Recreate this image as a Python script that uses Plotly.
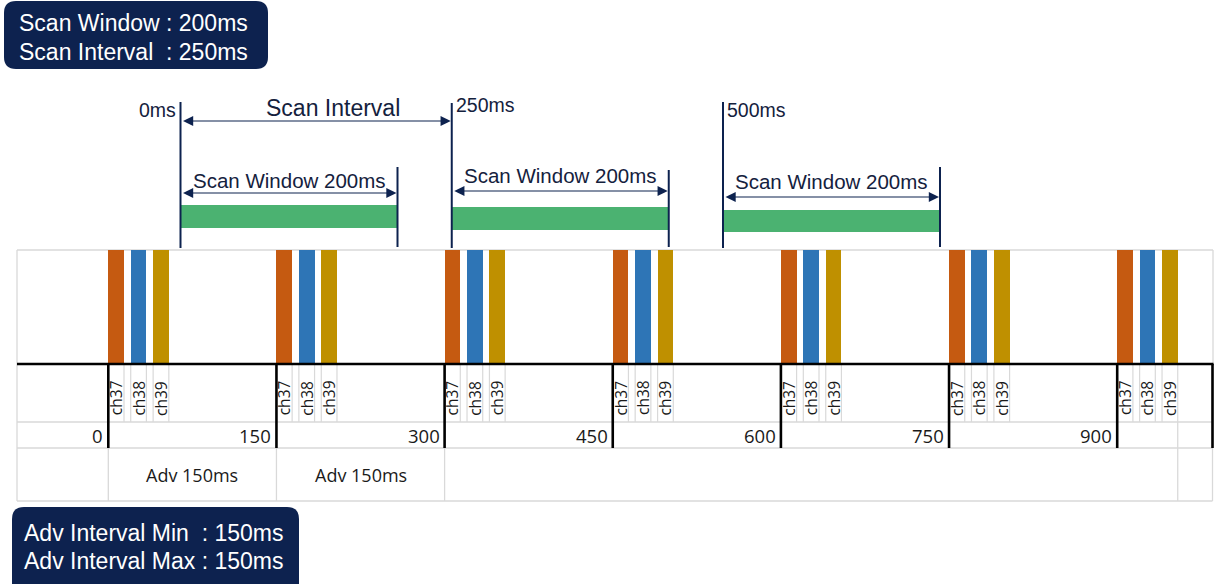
import plotly.graph_objects as go

# ---------------- data ----------------
adv_event_ms = [0, 150, 300, 450, 600, 750, 900]
adv_tick_labels = ["0", "150", "300", "450", "600", "750", "900"]
channel_names = ["ch37", "ch38", "ch39"]
channel_offset_ms = [0, 20, 40]
channel_duration_ms = [14, 14, 14]
channel_colors = ["#C55A11", "#2E75B6", "#BF9000"]
adv_span_start_ms = [0, 150]
adv_span_end_ms = [150, 300]
adv_span_labels = ["Adv 150ms", "Adv 150ms"]
scan_start_ms = [0, 250, 500]
scan_start_labels = ["0ms", "250ms", "500ms"]
scan_window_ms = 200
scan_interval_ms = 250
scan_window_labels = ["Scan Window 200ms", "Scan Window 200ms", "Scan Window 200ms"]
scan_interval_label = "Scan Interval"
scan_box_lines = ["Scan Window : 200ms", "Scan Interval&nbsp; : 250ms"]
adv_box_lines = ["Adv Interval Min&nbsp; : 150ms", "Adv Interval Max : 150ms"]

# ---------------- layout constants ----------------
W, H = 1219, 584
ADV_PX0, ADV_PX_PER_MS = 108.3, 1.121
SCAN_PX0, SCAN_PX_PER_MS = 180.5, 1.085
adv_range = [-ADV_PX0 / ADV_PX_PER_MS, (W - ADV_PX0) / ADV_PX_PER_MS]
scan_range = [-SCAN_PX0 / SCAN_PX_PER_MS, (W - SCAN_PX0) / SCAN_PX_PER_MS]

BAR_TOP, BASE, LABEL_BOTTOM, NUM_BOTTOM, TABLE_BOTTOM = 250, 364, 422, 448, 501
TABLE_LEFT, TABLE_RIGHT = 17, 1212.5
NAVY = "#0d224f"
TEXT_NAVY = "#14213d"
GRID = "#d9d9d9"
GREEN = "#4BB271"

SCAN_TEXT_Y = [180, 175, 181]
SCAN_ARROW_Y = [193, 191, 197]
SCAN_BAR_Y = [(205, 228), (207, 230), (210, 232)]
SCAN_START_TOP = [102, 103, 102]
SCAN_END_TOP = [167, 170, 167]
SCAN_LINE_BOTTOM = 248
SCAN_LABEL_Y = [109.5, 105, 110]
INTERVAL_ARROW_Y = 121
INTERVAL_TEXT_Y = 107.5

fig = go.Figure()

# channel bars
for i, name in enumerate(channel_names):
    fig.add_trace(go.Bar(
        x=[g + channel_offset_ms[i] + channel_duration_ms[i] / 2 for g in adv_event_ms],
        y=[BAR_TOP - BASE] * len(adv_event_ms),
        base=[BASE] * len(adv_event_ms),
        width=[channel_duration_ms[i]] * len(adv_event_ms),
        marker=dict(color=channel_colors[i], line=dict(width=0)),
        name=name, showlegend=False, hoverinfo="skip",
    ))

# invisible traces to register the extra axes
fig.add_trace(go.Scatter(x=scan_start_ms, y=[0] * 3, xaxis="x2", mode="markers",
                         marker=dict(opacity=0), showlegend=False, hoverinfo="skip"))
fig.add_trace(go.Scatter(x=[0, W], y=[0, 0], xaxis="x3", mode="markers",
                         marker=dict(opacity=0), showlegend=False, hoverinfo="skip"))

shapes = []
ann = []


def line(xref, x0, x1, y0, y1, color, width, layer="above"):
    shapes.append(dict(type="line", xref=xref, yref="y", x0=x0, x1=x1, y0=y0, y1=y1,
                       line=dict(color=color, width=width), layer=layer))


# ---- table grid ----
line("x3", TABLE_LEFT, TABLE_RIGHT + 0.5, BAR_TOP, BAR_TOP, GRID, 1.3, "below")
line("x3", TABLE_LEFT, TABLE_LEFT, BAR_TOP, TABLE_BOTTOM, GRID, 1.3, "below")
line("x3", TABLE_RIGHT + 0.5, TABLE_RIGHT + 0.5, BAR_TOP, BASE, GRID, 1.3, "below")
line("x3", TABLE_RIGHT, TABLE_RIGHT, NUM_BOTTOM, TABLE_BOTTOM, GRID, 1.3, "below")
for yy in [LABEL_BOTTOM, NUM_BOTTOM, TABLE_BOTTOM]:
    line("x3", TABLE_LEFT, TABLE_RIGHT, yy, yy, GRID, 1.3, "below")
for g in adv_event_ms:
    for i in range(len(channel_names)):
        for edge in [channel_offset_ms[i], channel_offset_ms[i] + channel_duration_ms[i]]:
            if edge == 0:
                continue
            line("x", g + edge, g + edge, BASE, LABEL_BOTTOM, GRID, 1.2, "below")
for s in adv_span_start_ms + adv_span_end_ms[-1:]:
    line("x", s, s, NUM_BOTTOM, TABLE_BOTTOM, GRID, 1.3, "below")
last_end = adv_event_ms[-1] + channel_offset_ms[-1] + channel_duration_ms[-1]
line("x", last_end, last_end, LABEL_BOTTOM, TABLE_BOTTOM, GRID, 1.3, "below")

# black baseline + event markers
line("x3", TABLE_LEFT, TABLE_RIGHT + 1, BASE, BASE, "black", 2.6)
for g in adv_event_ms:
    line("x", g, g, BASE, NUM_BOTTOM, "black", 2.6)
line("x3", TABLE_RIGHT, TABLE_RIGHT, BASE, NUM_BOTTOM, "black", 2.6)

GRID_FONT = "Open Sans"
for g in adv_event_ms:
    for i, name in enumerate(channel_names):
        ann.append(dict(xref="x", yref="y", x=g + channel_offset_ms[i] + channel_duration_ms[i] / 2,
                        y=398, text=name, showarrow=False, textangle=-90,
                        font=dict(family=GRID_FONT, size=15.5, color="#1a1a1a")))
for g, lab in zip(adv_event_ms, adv_tick_labels):
    ann.append(dict(xref="x", yref="y", x=g, y=435, text=lab, showarrow=False,
                    xanchor="right", xshift=-3,
                    font=dict(family=GRID_FONT, size=18.5, color="#1a1a1a")))
for s, e, lab in zip(adv_span_start_ms, adv_span_end_ms, adv_span_labels):
    ann.append(dict(xref="x", yref="y", x=(s + e) / 2, y=475, text=lab, showarrow=False,
                    font=dict(family=GRID_FONT, size=18, color="#1a1a1a")))

# ---- scan windows ----
TOP_FONT = "Liberation Sans"
for k, st in enumerate(scan_start_ms):
    en = st + scan_window_ms
    line("x2", st, st, SCAN_START_TOP[k], SCAN_LINE_BOTTOM, NAVY, 2)
    line("x2", en, en, SCAN_END_TOP[k], SCAN_LINE_BOTTOM - 1, NAVY, 2)
    y0, y1 = SCAN_BAR_Y[k]
    shapes.append(dict(type="rect", xref="x2", yref="y", x0=st, x1=en, y0=y0, y1=y1,
                       fillcolor=GREEN, line=dict(width=0), layer="below"))
    ann.append(dict(xref="x2", yref="y", x=en, y=SCAN_ARROW_Y[k], ax=st, ay=SCAN_ARROW_Y[k],
                    axref="x2", ayref="y", text="", showarrow=True, arrowside="end+start",
                    arrowhead=2, startarrowhead=2, arrowsize=1.7, startarrowsize=1.7,
                    arrowwidth=1.2, arrowcolor=NAVY, standoff=1, startstandoff=1))
    ann.append(dict(xref="x2", yref="y", x=(st + en) / 2, y=SCAN_TEXT_Y[k],
                    text=scan_window_labels[k], showarrow=False,
                    font=dict(family=TOP_FONT, size=20.5, color=TEXT_NAVY)))
    if k == 0:
        ann.append(dict(xref="x2", yref="y", x=st, y=SCAN_LABEL_Y[k], text=scan_start_labels[k],
                        showarrow=False, xanchor="right", xshift=-3,
                        font=dict(family=TOP_FONT, size=19.5, color=TEXT_NAVY)))
    else:
        ann.append(dict(xref="x2", yref="y", x=st, y=SCAN_LABEL_Y[k], text=scan_start_labels[k],
                        showarrow=False, xanchor="left", xshift=2,
                        font=dict(family=TOP_FONT, size=19.5, color=TEXT_NAVY)))

# scan interval arrow
ann.append(dict(xref="x2", yref="y", x=scan_start_ms[0] + scan_interval_ms, y=INTERVAL_ARROW_Y,
                ax=scan_start_ms[0], ay=INTERVAL_ARROW_Y, axref="x2", ayref="y", text="",
                showarrow=True, arrowside="end+start", arrowhead=2, startarrowhead=2,
                arrowsize=1.7, startarrowsize=1.7, arrowwidth=1.2, arrowcolor=NAVY,
                standoff=1, startstandoff=1))
ann.append(dict(xref="x2", yref="y", x=scan_start_ms[0] + scan_interval_ms / 2, y=INTERVAL_TEXT_Y,
                text=scan_interval_label, showarrow=False, xshift=17,
                font=dict(family=TOP_FONT, size=23, color=TEXT_NAVY)))


# ---- info boxes ----
def rounded(x0, y0, x1, y1, r):
    return (f"M {x0+r},{y0} L {x1-r},{y0} Q {x1},{y0} {x1},{y0+r} L {x1},{y1-r} "
            f"Q {x1},{y1} {x1-r},{y1} L {x0+r},{y1} Q {x0},{y1} {x0},{y1-r} "
            f"L {x0},{y0+r} Q {x0},{y0} {x0+r},{y0} Z")


shapes.append(dict(type="path", xref="x3", yref="y", path=rounded(4, 1, 268, 69, 12),
                   fillcolor=NAVY, line=dict(width=0)))
shapes.append(dict(type="path", xref="x3", yref="y", path=rounded(12, 507, 299, 596, 12),
                   fillcolor=NAVY, line=dict(width=0)))
for txt, yy in zip(scan_box_lines, [23, 52]):
    ann.append(dict(xref="x3", yref="y", x=17, y=yy, text=txt, showarrow=False, xanchor="left",
                    font=dict(family=TOP_FONT, size=23, color="white")))
for txt, yy in zip(adv_box_lines, [533, 561]):
    ann.append(dict(xref="x3", yref="y", x=22, y=yy, text=txt, showarrow=False, xanchor="left",
                    font=dict(family=TOP_FONT, size=23, color="white")))

fig.update_layout(
    width=W, height=H, autosize=False,
    margin=dict(l=0, r=0, t=0, b=0, pad=0),
    paper_bgcolor="white", plot_bgcolor="white",
    barmode="overlay", bargap=0,
    xaxis=dict(range=adv_range, visible=False, fixedrange=True),
    xaxis2=dict(range=scan_range, visible=False, overlaying="x", fixedrange=True),
    xaxis3=dict(range=[0, W], visible=False, overlaying="x", fixedrange=True),
    yaxis=dict(range=[H, 0], visible=False, fixedrange=True),
    shapes=shapes, annotations=ann,
    showlegend=False,
)

fig.write_html("out.html", config={"displayModeBar": False},
               post_script="document.body.style.margin='0';document.body.style.overflow='hidden';")
